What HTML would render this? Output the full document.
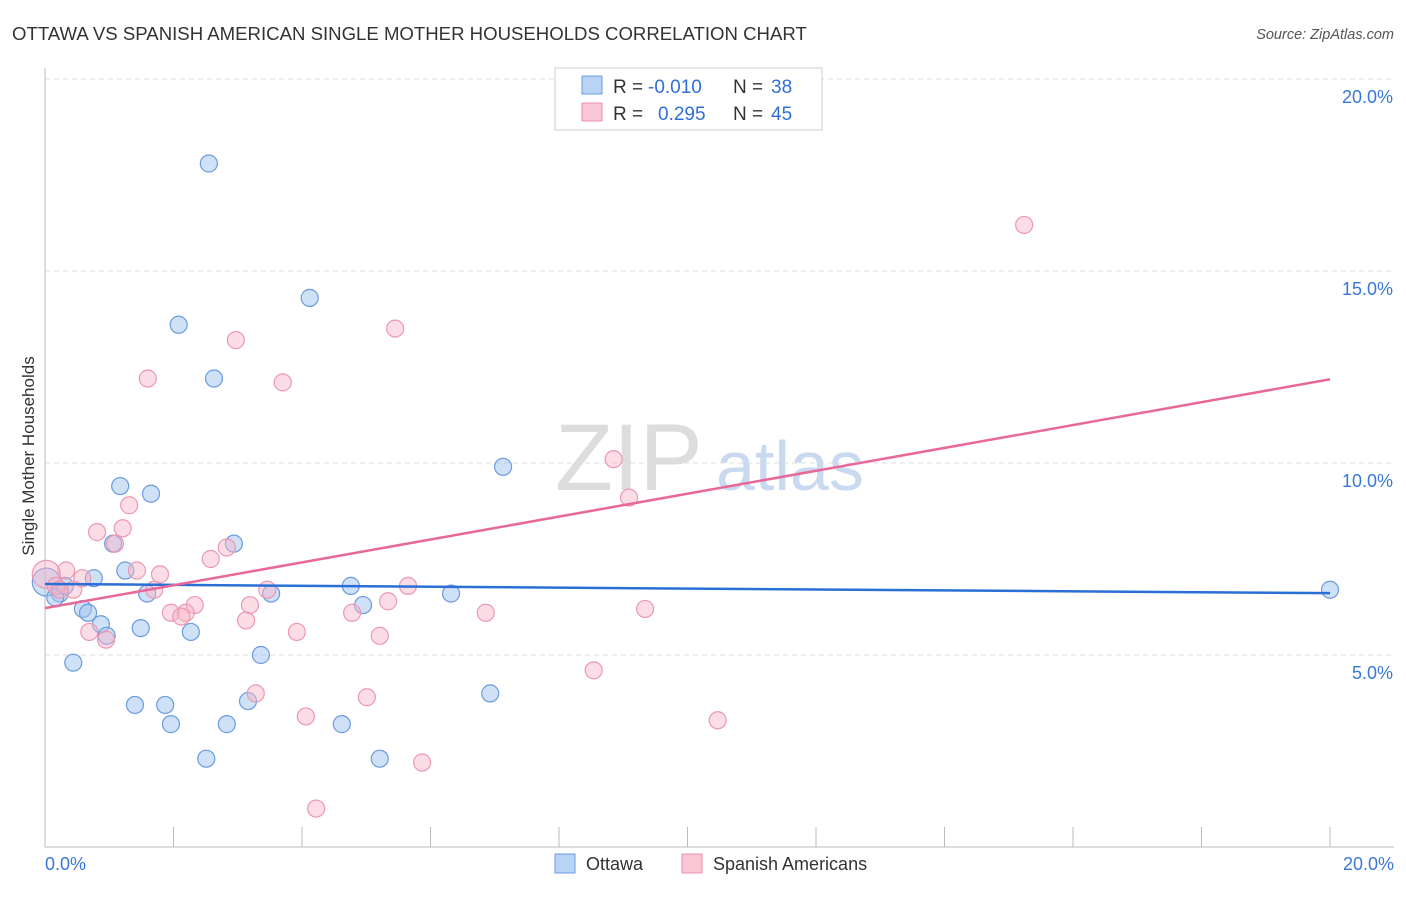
<!DOCTYPE html>
<html><head><meta charset="utf-8"><style>
body{margin:0;background:#fff;font-family:"Liberation Sans",sans-serif}
svg text{font-family:"Liberation Sans",sans-serif}
</style></head><body>
<svg id="chart" width="1406" height="892">
<text x="12" y="40" font-size="18.6" fill="#333">OTTAWA VS SPANISH AMERICAN SINGLE MOTHER HOUSEHOLDS CORRELATION CHART</text>
<text x="1394" y="39" font-size="14.5" fill="#555" font-style="italic" text-anchor="end">Source: ZipAtlas.com</text>
<text x="34" y="456" font-size="17" fill="#333" text-anchor="middle" transform="rotate(-90 34 456)">Single Mother Households</text>
<text x="555" y="490" font-size="95" fill="#ddd" font-family="Liberation Serif">ZIP</text>
<text x="716" y="490" font-size="70" fill="#c9d9ef">atlas</text>
<g id="grid"></g><g id="pts"></g><g id="lines"></g>
<g>
<rect x="555" y="68" width="267" height="62" fill="#fff" stroke="#ccc"/>
<rect x="582" y="76" width="20" height="18" fill="#b9d3f5" stroke="#6a9be0"/>
<rect x="582" y="103" width="20" height="18" fill="#fac6d6" stroke="#e890ac"/>
<text x="613" y="93" font-size="19" fill="#333">R =</text>
<text x="648" y="93" font-size="19" fill="#2f6fd6">-0.010</text>
<text x="733" y="93" font-size="19" fill="#333">N =</text>
<text x="771" y="93" font-size="19" fill="#2f6fd6">38</text>
<text x="613" y="120" font-size="19" fill="#333">R =</text>
<text x="658" y="120" font-size="19" fill="#2f6fd6">0.295</text>
<text x="733" y="120" font-size="19" fill="#333">N =</text>
<text x="771" y="120" font-size="19" fill="#2f6fd6">45</text>
</g>
<g>
<rect x="555" y="854" width="20" height="19" fill="#b9d3f5" stroke="#6a9be0"/>
<text x="586" y="870" font-size="18" fill="#333">Ottawa</text>
<rect x="682" y="854" width="20" height="19" fill="#fac6d6" stroke="#e890ac"/>
<text x="713" y="870" font-size="18" fill="#333">Spanish Americans</text>
</g>
</svg>
<script>
const blueX=[2.55,4.12,2.08,2.63,7.13,1.17,1.65,2.94,1.06,1.25,0.76,0.02,0.23,0.16,1.59,0.59,0.67,0.87,1.49,2.27,0.96,3.36,0.44,4.76,4.95,3.52,6.32,6.93,1.40,1.87,3.16,1.96,2.83,4.62,2.51,5.21,20.0,0.31];
const blueY=[17.8,14.3,13.6,12.2,9.9,9.4,9.2,7.9,7.9,7.2,7.0,6.9,6.6,6.5,6.6,6.2,6.1,5.8,5.7,5.6,5.5,5.0,4.8,6.8,6.3,6.6,6.6,4.0,3.7,3.7,3.8,3.2,3.2,3.2,2.3,2.3,6.7,6.8];
const pinkX=[15.24,11.08,5.45,2.97,1.60,3.70,8.85,9.09,1.31,0.81,1.21,1.09,2.83,2.58,1.43,1.79,0.33,0.58,0.02,0.17,0.44,1.70,3.46,5.65,5.34,3.19,2.33,1.96,2.19,2.12,4.78,6.86,9.34,3.13,0.69,3.92,5.21,0.95,8.54,3.28,5.01,4.06,10.47,5.87,4.22,0.23];
const pinkY=[16.2,19.5,13.5,13.2,12.2,12.1,10.1,9.1,8.9,8.2,8.3,7.9,7.8,7.5,7.2,7.1,7.2,7.0,7.1,6.8,6.7,6.7,6.7,6.8,6.4,6.3,6.3,6.1,6.1,6.0,6.1,6.1,6.2,5.9,5.6,5.6,5.5,5.4,4.6,4.0,3.9,3.4,3.3,2.2,1.0,6.7];
const trendBlue=[6.85,6.61];
const trendPink=[6.22,12.18];
const yTicks=[5,10,15,20];
const xTickLabels=["0.0%","20.0%"];
const X=v=>45+v*64.25, Y=v=>847-v*38.4;
const NS="http://www.w3.org/2000/svg";
function mk(t,a,p){const e=document.createElementNS(NS,t);for(const k in a)e.setAttribute(k,a[k]);p.appendChild(e);return e;}
const g=document.getElementById('grid');
yTicks.forEach(t=>{
 const l=mk('line',{x1:45,x2:1394,y1:Y(t),y2:Y(t),stroke:'#ddd','stroke-dasharray':'5,4'},g);
 
 
 const tx=mk('text',{x:1393,y:Y(t)+24,'font-size':18,fill:'#3a78d8','text-anchor':'end'},g);
 tx.textContent=t.toFixed(1)+'%';
 
 
});
mk('line',{x1:45,x2:45,y1:68,y2:847,stroke:'#bbb'},g);
mk('line',{x1:45,x2:1394,y1:847,y2:847,stroke:'#bbb'},g);
for(let i=0;i<=10;i++){const t=mk('line',{x1:X(i*2),x2:X(i*2),y1:827,y2:847,stroke:'#bbb'},g);
 
 }
[[0,45,'start'],[1,1394,'end']].forEach(([i,x,a])=>{const t=mk('text',{x:x,y:870,'font-size':18,fill:'#3a78d8','text-anchor':a},g);t.textContent=xTickLabels[i];
 
 });
const p=document.getElementById('pts');
blueX.forEach((v,i)=>{const c=mk('circle',{cx:X(v),cy:Y(blueY[i]),r:i==11?14:8.5,fill:'rgba(160,195,240,0.5)',stroke:'#6a9be0','stroke-width':1.2},p);
 
 });
pinkX.forEach((v,i)=>{const c=mk('circle',{cx:X(v),cy:Y(pinkY[i]),r:i==18?14:8.5,fill:'rgba(248,180,200,0.45)',stroke:'#ec98b2','stroke-width':1.2},p);
 
 });
const L=document.getElementById('lines');
const lb=mk('line',{x1:X(0),y1:Y(trendBlue[0]),x2:X(20),y2:Y(trendBlue[1]),stroke:'#2a6fd6','stroke-width':2.5},L);


const lp=mk('line',{x1:X(0),y1:Y(trendPink[0]),x2:X(20),y2:Y(trendPink[1]),stroke:'#e8689a','stroke-width':2.5},L);


</script>
</body></html>
